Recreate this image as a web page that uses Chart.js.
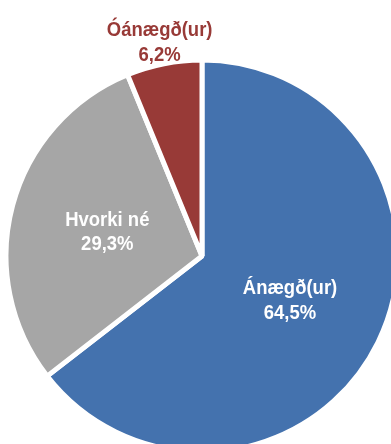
<!DOCTYPE html>
<html>
<head>
<meta charset="utf-8">
<script src="https://cdn.jsdelivr.net/npm/chart.js@4/dist/chart.umd.min.js"></script>
<style>
  html, body { margin: 0; padding: 0; background: #ffffff; overflow: hidden; }
  #wrap { width: 391px; height: 444px; position: relative; }
</style>
</head>
<body>
<div id="wrap"><canvas id="pie" width="391" height="444"></canvas></div>
<script>
// Satisfaction breakdown (percent)
const categories = ['Ánægð(ur)', 'Hvorki né', 'Óánægð(ur)'];
const shares = [64.5, 29.3, 6.2];
const shareLabels = ['64,5%', '29,3%', '6,2%'];

const sliceColors = ['#4472AE', '#A6A6A6', '#983A37'];
const labelColors = ['#ffffff', '#ffffff', '#983A37'];
// distance of each label from the centre, as a fraction of the radius
const labelDistance = [0.5, 0.5, 1.117];

// Two-line category / percentage labels, drawn slightly condensed
const sliceLabels = {
  id: 'sliceLabels',
  afterDatasetsDraw(chart) {
    const ctx = chart.ctx;
    const arcs = chart.getDatasetMeta(0).data;
    ctx.save();
    ctx.font = 'bold 21px "Liberation Sans", Arial, sans-serif';
    ctx.textAlign = 'center';
    ctx.textBaseline = 'alphabetic';
    arcs.forEach((arc, i) => {
      const mid = (arc.startAngle + arc.endAngle) / 2;
      const d = arc.outerRadius * labelDistance[i];
      const x = arc.x + Math.cos(mid) * d;
      const y = arc.y + Math.sin(mid) * d;
      ctx.fillStyle = labelColors[i];
      ctx.save();
      ctx.translate(x, y);
      ctx.scale(0.88, 1);
      ctx.fillText(categories[i], 0, -5);
      ctx.fillText(shareLabels[i], 0, 19.5);
      ctx.restore();
    });
    ctx.restore();
  }
};

new Chart(document.getElementById('pie'), {
  type: 'pie',
  data: {
    labels: categories,
    datasets: [{
      data: shares,
      backgroundColor: sliceColors,
      borderColor: '#ffffff',
      borderWidth: 5,
      clip: false
    }]
  },
  options: {
    responsive: false,
    animation: false,
    radius: 196,
    layout: { padding: { left: 13, right: 0, top: 68, bottom: 0 } },
    plugins: {
      legend: { display: false },
      tooltip: { enabled: false }
    }
  },
  plugins: [sliceLabels]
});
</script>
</body>
</html>
